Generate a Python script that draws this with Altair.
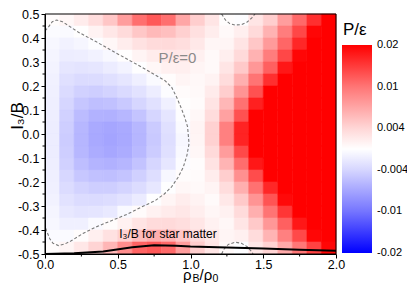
import altair as alt
import pandas as pd

FONT = "Liberation Sans"

# ---- heat map: P/eps in units of 1e-3, cells ----
rho_edges = [0.0, 0.1, 0.2, 0.3, 0.4, 0.5, 0.6, 0.7, 0.8, 0.9, 1.0,
             1.1, 1.2, 1.3, 1.4, 1.5, 1.6, 1.7, 1.8, 1.9, 2.0]
i3_edges = [0.5, 0.45, 0.4, 0.35, 0.3, 0.25, 0.2, 0.15, 0.1, 0.05, 0.0,
            -0.05, -0.1, -0.15, -0.2, -0.25, -0.3, -0.35, -0.4, -0.45, -0.5]
p_rows = [
    [0.3, 0.8, 1.9, 3.3, 5.0, 7.5, 10.5, 12.5, 10.5, 7.0, 4.5, 2.5, 0.2, -0.2, 2.5, 4.5, 7.5, 11, 16, 22],
    [-0.4, -0.5, 0.1, 1.2, 2.3, 3.5, 4.9, 5.8, 5.4, 4.4, 3.0, 1.8, 0.6, 1.6, 3.6, 6.2, 9.5, 13.9, 19.5, 25],
    [-0.8, -1.3, -0.9, -0.2, 0.8, 1.8, 2.8, 3.5, 3.6, 3.2, 2.2, 0.9, 1.0, 2.6, 4.9, 7.7, 11.3, 16.7, 22, 26],
    [-1.0, -1.8, -1.7, -1.3, -0.7, 0.1, 1.1, 1.9, 2.3, 2.2, 1.5, 0.6, 1.6, 3.6, 6.2, 9.5, 13.9, 19.5, 24, 27],
    [-1.2, -2.4, -2.6, -2.4, -1.9, -1.2, -0.1, 0.8, 1.5, 1.6, 1.0, 0.6, 2.5, 4.8, 7.9, 11.8, 18, 23.7, 27, 28],
    [-1.4, -3.0, -3.5, -3.4, -3.0, -2.4, -1.6, -0.5, 0.3, 1.0, 0.7, 1.2, 3.4, 6.4, 10.1, 16, 22, 26, 28, 29],
    [-1.5, -3.5, -4.3, -4.5, -4.2, -3.6, -2.8, -1.8, -0.3, 0.4, 0.6, 2.0, 4.5, 8.1, 13.1, 20, 24, 27, 29, 30],
    [-1.6, -4.0, -5.0, -5.4, -5.3, -4.8, -4.0, -2.9, -1.5, 0.1, 0.4, 2.6, 5.9, 10.3, 17.3, 24, 27, 29, 30, 30],
    [-1.7, -4.3, -5.6, -6.2, -6.3, -5.9, -5.1, -4.0, -2.5, -0.2, 0.8, 3.4, 7.3, 13.1, 21, 26, 28, 30, 30, 30],
    [-1.8, -4.5, -5.9, -6.7, -7.0, -6.7, -5.9, -4.7, -3.0, -0.5, 1.1, 4.3, 9.3, 17, 24, 28, 30, 30, 30, 30],
    [-1.8, -4.6, -6.0, -6.8, -7.1, -6.8, -6.0, -4.8, -3.2, -0.8, 1.0, 4.3, 9.3, 17, 24, 28, 30, 30, 30, 30],
    [-1.8, -4.5, -5.9, -6.6, -6.9, -6.6, -5.8, -4.6, -3.0, -0.6, 0.8, 3.6, 7.6, 13.8, 22, 27, 29, 30, 30, 30],
    [-1.7, -4.3, -5.5, -6.1, -6.3, -6.0, -5.2, -4.0, -2.4, -0.3, 0.3, 2.7, 6.1, 10.7, 18, 25, 28, 30, 30, 30],
    [-1.6, -3.9, -4.9, -5.3, -5.4, -5.1, -4.4, -3.2, -0.8, 0.3, 0.4, 1.8, 4.5, 8.3, 13.5, 21, 25, 28, 29, 30],
    [-1.5, -3.4, -4.2, -4.5, -4.5, -4.1, -3.4, -2.3, -0.1, 0.8, 0.6, 1.1, 3.3, 6.4, 10.3, 16.7, 23, 26, 28, 29],
    [-1.3, -2.8, -3.4, -3.5, -3.3, -2.8, -2.0, -0.1, 1.0, 1.8, 1.2, 0.5, 2.2, 4.8, 8.1, 12.8, 19.2, 24, 27, 28],
    [-1.0, -2.2, -2.6, -2.5, -2.1, -0.6, 0.4, 1.3, 2.0, 2.3, 1.7, 0.9, 1.4, 3.5, 6.4, 10.1, 15.4, 21.6, 26, 28],
    [-0.8, -1.5, -1.5, -0.5, 0.3, 1.4, 2.6, 3.5, 3.6, 3.2, 2.4, 1.4, 0.8, 2.5, 4.8, 7.9, 11.8, 18, 23, 26],
    [-0.4, -0.5, 0.3, 1.6, 2.9, 4.3, 5.6, 6.5, 6.1, 5.0, 3.5, 2.2, 1.0, 1.5, 3.4, 6.1, 9.3, 13.8, 19.5, 24],
    [0.3, 1.0, 2.3, 4.1, 6.0, 8.5, 11.5, 12.5, 11, 7.5, 4.5, 2.5, 0.6, -0.2, 2.3, 4.2, 6.8, 9.9, 14.4, 19.5],
]

# ---- P/eps = 0 contour (main loop, incl. rho = 0 edge) ----
contour_rho = [0.0, 0.023, 0.05, 0.08, 0.12, 0.23, 0.35, 0.46, 0.58, 0.69, 0.78, 0.825,
               0.87, 0.905, 0.935, 0.96, 0.98, 0.99, 0.975, 0.95, 0.915, 0.87, 0.82,
               0.756, 0.66, 0.57, 0.46, 0.344, 0.26, 0.18, 0.137, 0.092, 0.055, 0.034,
               0.01, 0.0, 0.0]
contour_i3 = [0.43, 0.445, 0.468, 0.475, 0.468, 0.424, 0.385, 0.347, 0.307, 0.27, 0.238, 0.222,
              0.195, 0.153, 0.11, 0.07, 0.03, -0.04, -0.09, -0.139, -0.18, -0.22, -0.25,
              -0.278, -0.305, -0.333, -0.36, -0.389, -0.415, -0.445, -0.458, -0.465, -0.455, -0.4375,
              -0.403, -0.38, 0.43]
top_island_rho = [1.214, 1.24, 1.27, 1.306, 1.35, 1.39, 1.42, 1.443]
top_island_i3 = [0.5, 0.475, 0.46, 0.454, 0.456, 0.467, 0.483, 0.5]
bot_island_rho = [1.214, 1.23, 1.26, 1.306, 1.35, 1.39, 1.42, 1.43]
bot_island_i3 = [-0.5, -0.48, -0.46, -0.451, -0.455, -0.47, -0.49, -0.5]

# ---- I3/B for star matter ----
star_rho = [0.0, 0.2, 0.4, 0.6, 0.75, 0.9, 1.0, 1.25, 1.5, 1.75, 2.0]
star_i3 = [-0.5, -0.497, -0.49, -0.472, -0.464, -0.466, -0.469, -0.473, -0.477, -0.482, -0.486]

# ---- axes & colour bar ----
x_ticks = [0.0, 0.5, 1.0, 1.5, 2.0]
x_minor = [0.25, 0.75, 1.25, 1.75]
y_ticks = [-0.5, -0.4, -0.3, -0.2, -0.1, 0.0, 0.1, 0.2, 0.3, 0.4, 0.5]
y_minor = [-0.45, -0.35, -0.25, -0.15, -0.05, 0.05, 0.15, 0.25, 0.35, 0.45]
cb_domain = [-0.02, -0.01, -0.004, 0.0, 0.004, 0.01, 0.02]
cb_colors = ["#0000ff", "#7575ff", "#d6d6ff", "#ffffff", "#ffd6d6", "#ff7575", "#ff0000"]
cb_labels = ["0.02", "0.01", "0.004", "-0.004", "-0.01", "-0.02"]

# ---- build tables ----
cells = []
for r in range(len(i3_edges) - 1):
    for c in range(len(rho_edges) - 1):
        cells.append({"x0": rho_edges[c], "x1": rho_edges[c + 1],
                      "y0": i3_edges[r], "y1": i3_edges[r + 1],
                      "p": p_rows[r][c] / 1000.0})
heat_df = pd.DataFrame(cells)

cont_rows = []
for k, (a, b) in enumerate(zip(contour_rho, contour_i3)):
    cont_rows.append({"rho": a, "i3": b, "k": k, "g": "main"})
for k, (a, b) in enumerate(zip(top_island_rho, top_island_i3)):
    cont_rows.append({"rho": a, "i3": b, "k": k, "g": "top"})
for k, (a, b) in enumerate(zip(bot_island_rho, bot_island_i3)):
    cont_rows.append({"rho": a, "i3": b, "k": k, "g": "bot"})
cont_df = pd.DataFrame(cont_rows)
star_df = pd.DataFrame({"rho": star_rho, "i3": star_i3, "k": list(range(len(star_rho)))})
one = pd.DataFrame({"a": [0]})

sx = alt.Scale(domain=[0, 2], nice=False, zero=False)
sy = alt.Scale(domain=[-0.5, 0.5], nice=False, zero=False)
cscale = alt.Scale(domain=cb_domain, range=cb_colors, interpolate="rgb", clamp=True)

XA = dict(values=x_ticks, labelExpr="format(datum.value, '.1f')", title=None,
          tickSize=4, tickColor="black", domainColor="black", labelColor="black",
          labelFont=FONT, labelFontSize=12.5, labelPadding=0, grid=False,
          labelFlush=False, labelOverlap=False, zindex=1)
YA = dict(values=y_ticks,
          labelExpr="replace(format(datum.value, '.1f'), '\u2212', '-')",
          title=None, tickSize=4, tickColor="black", domainColor="black",
          labelColor="black", labelFont=FONT, labelFontSize=12.5, labelPadding=2,
          grid=False, labelFlush=False, labelOverlap=False, zindex=1)


def X(field=None, **kw):
    if field is None:
        return alt.X(scale=sx, axis=alt.Axis(**XA), **kw)
    return alt.X(field, scale=sx, axis=alt.Axis(**XA), **kw)


def Y(field=None, **kw):
    if field is None:
        return alt.Y(scale=sy, axis=alt.Axis(**YA), **kw)
    return alt.Y(field, scale=sy, axis=alt.Axis(**YA), **kw)


heat = alt.Chart(heat_df).mark_rect(strokeWidth=0.6).encode(
    x=X("x0:Q"), x2="x1:Q",
    y=Y("y0:Q"), y2="y1:Q",
    color=alt.Color("p:Q", scale=cscale, legend=None),
    stroke=alt.Stroke("p:Q", scale=cscale, legend=None),
)

contour = alt.Chart(cont_df).mark_line(color="#7a7a7a", strokeDash=[3, 2], strokeWidth=1.1,
                                       clip=True).encode(
    x=X("rho:Q"), y=Y("i3:Q"), order="k:Q", detail="g:N")

star = alt.Chart(star_df).mark_line(color="black", strokeWidth=2, clip=True).encode(
    x=X("rho:Q"), y=Y("i3:Q"), order="k:Q")

zero_lbl = alt.Chart(one).mark_text(text="P/\u03b5=0", font=FONT, fontSize=15, color="#8a8a8a",
                                    align="left", baseline="alphabetic").encode(
    x=X(datum=0.78), y=Y(datum=0.295))
star_lbl = alt.Chart(one).mark_text(text="I\u2083/B for star matter", font=FONT, fontSize=12,
                                    color="black", align="left", baseline="alphabetic").encode(
    x=X(datum=0.51), y=Y(datum=-0.433))

frame = alt.Chart(one).mark_rect(fillOpacity=0, stroke="black", strokeWidth=1).encode(
    x=X(datum=0), x2=alt.datum(2), y=Y(datum=-0.5), y2=alt.datum(0.5))

xminor = alt.Chart(pd.DataFrame({"v": x_minor})).mark_rule(color="black", strokeWidth=1).encode(
    x=X("v:Q"), y=alt.value(240), y2=alt.value(242.5))
yminor = alt.Chart(pd.DataFrame({"v": y_minor})).mark_rule(color="black", strokeWidth=1).encode(
    y=Y("v:Q"), x=alt.value(-2.5), x2=alt.value(0))


# axis titles with subscripts
def txt(s, size, x, y, angle=0, align="left"):
    kw = dict(text=s, font=FONT, fontSize=size, color="black", align=align,
              baseline="alphabetic")
    if angle:
        kw["angle"] = angle
        kw["baseline"] = "middle"
    return alt.Chart(one).mark_text(**kw).encode(x=alt.value(x), y=alt.value(y))


ytitle = txt("I\u2083/B", 17, -27, 102, angle=270, align="center")
xt1 = txt("\u03c1", 15, 138, 266)
xt2 = txt("B", 10.5, 147.5, 268.3)
xt3 = txt("/\u03c1", 15, 154.5, 266)
xt4 = txt("0", 10.5, 167.5, 268.3)

grad = alt.Gradient(gradient="linear", x1=0, x2=0, y1=0, y2=1, stops=[
    alt.GradientStop(offset=0.0, color=cb_colors[6]),
    alt.GradientStop(offset=0.2, color=cb_colors[5]),
    alt.GradientStop(offset=0.4, color=cb_colors[4]),
    alt.GradientStop(offset=0.5, color=cb_colors[3]),
    alt.GradientStop(offset=0.6, color=cb_colors[2]),
    alt.GradientStop(offset=0.8, color=cb_colors[1]),
    alt.GradientStop(offset=1.0, color=cb_colors[0]),
])
cbar = alt.Chart(one).mark_rect(fill=grad).encode(
    x=alt.value(297), x2=alt.value(327), y=alt.value(31), y2=alt.value(239))
cbtitle = txt("P/\u03b5", 17, 298, 21)

main = alt.layer(heat, contour, star, zero_lbl, star_lbl, frame, xminor, yminor,
                 ytitle, xt1, xt2, xt3, xt4, cbar, cbtitle)

cb_lbls = alt.Chart(pd.DataFrame({"label": cb_labels})).mark_text(
    font=FONT, fontSize=11, color="black", align="left", baseline="middle").encode(
    y=alt.Y("label:N", scale=alt.Scale(domain=cb_labels, range=[31, 239], padding=0),
            axis=None),
    x=alt.value(332), text="label:N")

chart = alt.layer(main, cb_lbls).resolve_scale(y="independent").properties(
    width=291, height=240,
    autosize=alt.AutoSizeParams(type="none"),
    padding={"left": 37, "top": 6, "right": 71, "bottom": 29},
    background="white",
).configure_view(stroke=None).configure_axis(labelOverlap=False)

chart.save("out.html", embed_options={"renderer": "svg", "actions": False})
